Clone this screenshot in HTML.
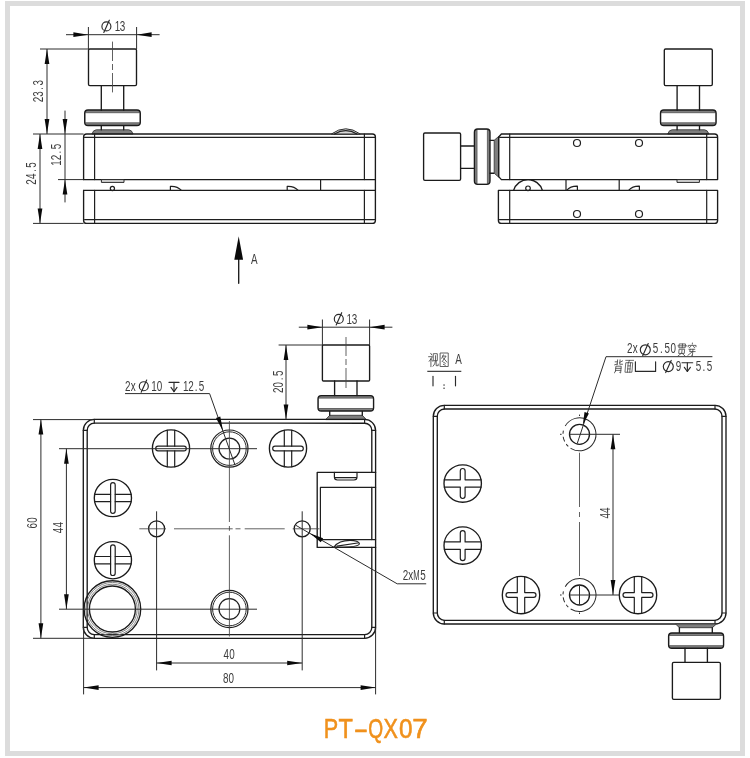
<!DOCTYPE html>
<html lang="en">
<head>
<meta charset="utf-8">
<title>PT-QX07</title>
<style>
html,body{margin:0;padding:0;background:#fff;}
body{width:750px;height:758px;overflow:hidden;font-family:"Liberation Sans",sans-serif;}
svg{display:block;}
.o{fill:none;stroke:#1b1b1b;stroke-width:1.35;stroke-linecap:round;stroke-linejoin:round;}
.o2{fill:none;stroke:#1f1f1f;stroke-width:1.2;stroke-linecap:round;stroke-linejoin:round;}
.o4{fill:none;stroke:#5a5a5a;stroke-width:0.9;}
.o5{fill:none;stroke:#2a2a2a;stroke-width:1;}
.o3{fill:none;stroke:#777;stroke-width:0.9;}
.g{fill:#7e7e7e;stroke:#3c3c3c;stroke-width:0.9;stroke-linejoin:round;}
.gb{fill:#808080;stroke:none;}
.gl{fill:#d9d9d9;stroke:#2a2a2a;stroke-width:1;stroke-linejoin:round;}
.gs{fill:#cfcfcf;stroke:#262626;stroke-width:1.05;}
.t{fill:none;stroke:#2c2c2c;stroke-width:1;}
.c{fill:none;stroke:#444;stroke-width:0.85;}
.t2{fill:none;stroke:#888;stroke-width:0.7;}
.s{fill:none;stroke:#2a2a2a;stroke-width:1.15;stroke-linecap:round;stroke-linejoin:round;}
.u{fill:none;stroke:#444;stroke-width:1.3;}
.a{fill:#0a0a0a;stroke:none;}
.tx{font-family:"Liberation Sans",sans-serif;fill:#3c3c3c;}
.cj{fill:none;stroke:#444;stroke-width:0.85;stroke-linecap:round;stroke-linejoin:round;}
.ti{font-family:"Liberation Sans",sans-serif;font-size:27px;fill:#f0911c;stroke:#f0911c;stroke-width:0.6;}
</style>
</head>
<body>
<svg width="750" height="758" viewBox="0 0 750 758">
<defs><filter id="gs" filterUnits="userSpaceOnUse" x="0" y="0" width="750" height="758" color-interpolation-filters="sRGB"><feColorMatrix type="saturate" values="0"/></filter><filter id="id" filterUnits="userSpaceOnUse" x="0" y="0" width="750" height="758" color-interpolation-filters="sRGB"><feColorMatrix type="saturate" values="1"/></filter></defs>
<rect x="0" y="0" width="750" height="758" fill="#ffffff"/>
<rect x="5" y="1" width="740" height="755" fill="#dcdcdc"/>
<rect x="10" y="6" width="730" height="745" fill="#ffffff"/>
<g filter="url(#gs)">
<g id="v1">
<path class="g" d="M91.9 134Q93.3 129.8 96.3 129.8H128.7Q131.7 129.8 133.1 134Z"/>
<line class="o" x1="101.3" y1="129.8" x2="101.3" y2="125.6"/>
<line class="o" x1="123.7" y1="129.8" x2="123.7" y2="125.6"/>
<rect class="gb" x="84.7" y="110" width="55.6" height="15.5" rx="3.3"/>
<rect x="85.4" y="112.7" width="54.2" height="10.1" fill="#fff"/>
<line class="o4" x1="85.3" y1="112.7" x2="139.7" y2="112.7"/>
<line class="o4" x1="85.3" y1="122.8" x2="139.7" y2="122.8"/>
<rect class="o" x="84.7" y="110" width="55.6" height="15.5" rx="3.3"/>
<line class="o" x1="101.3" y1="110.2" x2="101.3" y2="85.6"/>
<line class="o" x1="123.7" y1="110.2" x2="123.7" y2="85.6"/>
<rect class="o" x="88.5" y="49" width="48" height="36.6" rx="1.3"/>
<path class="c" d="M112.5 41.6V61M112.5 64V70M112.5 73V92.4"/>
<path class="o" d="M83.6 179.6V137Q83.6 134 86.6 134H372.4Q375.4 134 375.4 137V220.4Q375.4 223.4 372.4 223.4H86.6Q83.6 223.4 83.6 220.4V190.4"/>
<line class="o" x1="83.6" y1="179.6" x2="375.4" y2="179.6"/>
<line class="o" x1="83.6" y1="190.4" x2="375.4" y2="190.4"/>
<line class="o2" x1="84.6" y1="137.4" x2="374.9" y2="137.4"/>
<line class="o2" x1="84.6" y1="219.7" x2="374.9" y2="219.7"/>
<line class="o2" x1="94.6" y1="134" x2="94.6" y2="179.6"/>
<line class="o2" x1="94.6" y1="190.4" x2="94.6" y2="223.4"/>
<line class="o2" x1="364.4" y1="134" x2="364.4" y2="179.6"/>
<line class="o2" x1="364.4" y1="190.4" x2="364.4" y2="223.4"/>
<line class="o2" x1="320.6" y1="179.6" x2="320.6" y2="190.4"/>
<rect class="gl" x="101.4" y="179.6" width="22.6" height="2.8"/>
<circle class="o2" cx="112.4" cy="188.5" r="2.1"/>
<path class="o2" d="M170.4 190.4V186.4Q177.4 186 181.4 190.4"/>
<path class="o2" d="M287.2 190.4V186.4Q294.2 186 298.2 190.4"/>
<path class="gl" d="M331.4 134Q345.8 123.6 360.2 134Z"/>
<path class="o2" d="M334.5 134Q345.8 127.4 357 134"/>
</g>
<g id="d1">
<line class="t" x1="66" y1="34.7" x2="159.6" y2="34.7"/>
<line class="t" x1="88.4" y1="27" x2="88.4" y2="49"/>
<line class="t" x1="136.6" y1="27" x2="136.6" y2="49"/>
<polygon class="a" points="88.4,34.7 73.4,37.05 73.4,32.35"/>
<polygon class="a" points="136.6,34.7 151.6,32.35 151.6,37.05"/>
<circle class="s" cx="106.4" cy="26.4" r="4.5"/>
<line class="s" x1="103.8" y1="32.4" x2="109.3" y2="20.2"/>
<text class="tx" transform="translate(114.8,30.8) scale(0.65,1)" font-size="15.2" text-anchor="middle" x="4 12" y="0">13</text>
<line class="t" x1="40" y1="49" x2="88.4" y2="49"/>
<line class="t" x1="33" y1="134" x2="83.6" y2="134"/>
<line class="t" x1="47" y1="49" x2="47" y2="134"/>
<polygon class="a" points="47,49 49.35,64 44.65,64"/>
<polygon class="a" points="47,134 44.65,119 49.35,119"/>
<text class="tx" transform="translate(43.2,102.4) rotate(-90) scale(0.65,1)" font-size="15.2" text-anchor="middle" x="4.35 13.04 21.73 30.42" y="0">23.3</text>
<line class="t" x1="65" y1="110.6" x2="65" y2="202.4"/>
<polygon class="a" points="65,134 62.65,119 67.35,119"/>
<polygon class="a" points="65,179.6 67.35,194.6 62.65,194.6"/>
<line class="t" x1="58" y1="179.6" x2="83.6" y2="179.6"/>
<text class="tx" transform="translate(61.4,165.8) rotate(-90) scale(0.65,1)" font-size="15.2" text-anchor="middle" x="4.23 12.69 21.15 29.62" y="0">12.5</text>
<line class="t" x1="40" y1="134" x2="40" y2="223.4"/>
<polygon class="a" points="40,134 42.35,149 37.65,149"/>
<polygon class="a" points="40,223.4 37.65,208.4 42.35,208.4"/>
<line class="t" x1="33" y1="223.4" x2="83.6" y2="223.4"/>
<text class="tx" transform="translate(36,184.8) rotate(-90) scale(0.65,1)" font-size="15.2" text-anchor="middle" x="4.35 13.04 21.73 30.42" y="0">24.5</text>
<line class="o" x1="238.7" y1="258" x2="238.7" y2="283.3"/>
<polygon class="a" points="238.7,236.3 234.3,259.7 243.1,259.7"/>
<text class="tx" transform="translate(251,263.8) scale(0.65,1)" font-size="15.2" text-anchor="middle" x="4.92" y="0">A</text>
</g>
<g id="v2">
<path class="g" d="M667.7 134Q669.1 129.8 672.1 129.8H704.5Q707.5 129.8 708.9 134Z"/>
<line class="o" x1="677.1" y1="129.8" x2="677.1" y2="125.6"/>
<line class="o" x1="699.5" y1="129.8" x2="699.5" y2="125.6"/>
<rect class="gb" x="660.5" y="110" width="55.6" height="15.5" rx="3.3"/>
<rect x="661.2" y="112.7" width="54.2" height="10.1" fill="#fff"/>
<line class="o4" x1="661.1" y1="112.7" x2="715.5" y2="112.7"/>
<line class="o4" x1="661.1" y1="122.8" x2="715.5" y2="122.8"/>
<rect class="o" x="660.5" y="110" width="55.6" height="15.5" rx="3.3"/>
<line class="o" x1="677.1" y1="110.2" x2="677.1" y2="85.6"/>
<line class="o" x1="699.5" y1="110.2" x2="699.5" y2="85.6"/>
<rect class="o" x="664.3" y="49" width="48" height="36.6" rx="1.3"/>
<rect class="o" x="423.6" y="133" width="37" height="47.4" rx="1.3"/>
<line class="o" x1="460.6" y1="146" x2="474.4" y2="146"/>
<line class="o" x1="460.6" y1="168.4" x2="474.4" y2="168.4"/>
<rect class="gb" x="474.4" y="129" width="15.6" height="55.4" rx="3.3"/>
<rect x="477" y="129.7" width="10.4" height="54" fill="#fff"/>
<line class="o4" x1="477" y1="129.6" x2="477" y2="183.8"/>
<line class="o4" x1="487.4" y1="129.6" x2="487.4" y2="183.8"/>
<rect class="o" x="474.4" y="129" width="15.6" height="55.4" rx="3.3"/>
<line class="o" x1="490" y1="140.3" x2="494.2" y2="140.3"/>
<line class="o" x1="490" y1="173.2" x2="494.2" y2="173.2"/>
<polygon class="g" points="494.2,140.3 498.7,136.4 498.7,177.2 494.2,173.2"/>
<path class="o" d="M498.7 137V176.6L501.4 179.6H717.6V137Q717.6 134 714.6 134H501.4Z"/>
<line class="o2" x1="499.7" y1="137.4" x2="717.1" y2="137.4"/>
<line class="o2" x1="509.7" y1="134" x2="509.7" y2="179.6"/>
<line class="o2" x1="706.7" y1="134" x2="706.7" y2="179.6"/>
<path class="o" d="M498.4 190.4V220.4Q498.4 223.4 501.4 223.4H714.6Q717.6 223.4 717.6 220.4V190.4Z"/>
<line class="o2" x1="499.4" y1="219.7" x2="717.1" y2="219.7"/>
<line class="o2" x1="509.7" y1="190.4" x2="509.7" y2="223.4"/>
<line class="o2" x1="706.7" y1="190.4" x2="706.7" y2="223.4"/>
<line class="o2" x1="566" y1="179.6" x2="566" y2="190.4"/>
<line class="o2" x1="619.2" y1="179.6" x2="619.2" y2="190.4"/>
<path class="o2" d="M566.6 190.4Q570.6 186 577.4 186.2V190.4"/>
<path class="o2" d="M628.6 190.4Q632.6 186 639.4 186.2V190.4"/>
<path class="o" d="M513.6 190.4A15 15 0 0 1 542.4 190.4"/>
<circle class="o2" cx="528" cy="188.3" r="2.3"/>
<circle class="o2" cx="577" cy="143" r="3.5"/>
<circle class="o2" cx="639" cy="143" r="3.5"/>
<circle class="o2" cx="577" cy="214" r="3.5"/>
<circle class="o2" cx="639" cy="214" r="3.5"/>
<rect class="gl" x="677" y="179.6" width="22.4" height="2.8"/>
</g>
<g id="v3">
<polygon class="g" points="325.6,419.6 329.7,415.3 362.3,415.3 366.4,419.6"/>
<line class="o" x1="329.7" y1="411" x2="329.7" y2="415.3"/>
<line class="o" x1="362.3" y1="411" x2="362.3" y2="415.3"/>
<rect class="gb" x="318" y="395.6" width="55.6" height="15.4" rx="3.3"/>
<rect x="318.7" y="398.1" width="54.2" height="10.4" fill="#fff"/>
<line class="o4" x1="318.6" y1="398.1" x2="373" y2="398.1"/>
<line class="o4" x1="318.6" y1="408.5" x2="373" y2="408.5"/>
<rect class="o" x="318" y="395.6" width="55.6" height="15.4" rx="3.3"/>
<line class="o" x1="334.6" y1="381" x2="334.6" y2="395.6"/>
<line class="o" x1="357" y1="381" x2="357" y2="395.6"/>
<rect class="o" x="322.4" y="345" width="47.2" height="36" rx="1"/>
<path class="c" d="M346 337V356M346 359V365M346 368V388"/>
<path class="o" d="M83.3 627.3V430.4A11 11 0 0 1 94.3 419.4H364.6A11 11 0 0 1 375.6 430.4V627.3A11 11 0 0 1 364.6 638.3H94.3A11 11 0 0 1 83.3 627.3"/>
<path class="o" d="M87.2 627.3V430.4A7.2 7.2 0 0 1 94.3 423.2H364.6A7.2 7.2 0 0 1 371.8 430.4V472.4M371.8 487.4V539.6M371.8 547.4V627.3A7.2 7.2 0 0 1 364.6 634.6H94.3A7.2 7.2 0 0 1 87.2 627.3"/>
<line class="o2" x1="83.3" y1="430.4" x2="87.2" y2="430.4"/>
<line class="o2" x1="94.3" y1="419.4" x2="94.3" y2="423.2"/>
<line class="o2" x1="364.6" y1="419.4" x2="364.6" y2="423.2"/>
<line class="o2" x1="371.8" y1="430.4" x2="375.6" y2="430.4"/>
<line class="o2" x1="371.8" y1="627.3" x2="375.6" y2="627.3"/>
<line class="o2" x1="364.6" y1="634.6" x2="364.6" y2="638.3"/>
<line class="o2" x1="94.3" y1="634.6" x2="94.3" y2="638.3"/>
<line class="o2" x1="83.3" y1="627.3" x2="87.2" y2="627.3"/>
<g transform="translate(112.9,498)">
<circle class="o" cx="0" cy="0" r="18.6"/>
<rect class="o2" x="-2.3" y="-15.3" width="4.6" height="30.6" rx="2.3"/>
<line class="o2" x1="-18.23" y1="-3.7" x2="-2.3" y2="-3.7"/>
<line class="o2" x1="2.3" y1="-3.7" x2="18.23" y2="-3.7"/>
<line class="o2" x1="-18.23" y1="3.7" x2="-2.3" y2="3.7"/>
<line class="o2" x1="2.3" y1="3.7" x2="18.23" y2="3.7"/>
</g>
<g transform="translate(112.9,560.2)">
<circle class="o" cx="0" cy="0" r="18.6"/>
<rect class="o2" x="-2.3" y="-15.3" width="4.6" height="30.6" rx="2.3"/>
<line class="o2" x1="-18.23" y1="-3.7" x2="-2.3" y2="-3.7"/>
<line class="o2" x1="2.3" y1="-3.7" x2="18.23" y2="-3.7"/>
<line class="o2" x1="-18.23" y1="3.7" x2="-2.3" y2="3.7"/>
<line class="o2" x1="2.3" y1="3.7" x2="18.23" y2="3.7"/>
</g>
<g transform="translate(171,448.5) rotate(90)">
<circle class="o" cx="0" cy="0" r="18.6"/>
<rect class="o2" x="-2.3" y="-15.3" width="4.6" height="30.6" rx="2.3"/>
<line class="o2" x1="-18.23" y1="-3.7" x2="-2.3" y2="-3.7"/>
<line class="o2" x1="2.3" y1="-3.7" x2="18.23" y2="-3.7"/>
<line class="o2" x1="-18.23" y1="3.7" x2="-2.3" y2="3.7"/>
<line class="o2" x1="2.3" y1="3.7" x2="18.23" y2="3.7"/>
</g>
<g transform="translate(288,448.5) rotate(90)">
<circle class="o" cx="0" cy="0" r="18.6"/>
<rect class="o2" x="-2.3" y="-15.3" width="4.6" height="30.6" rx="2.3"/>
<line class="o2" x1="-18.23" y1="-3.7" x2="-2.3" y2="-3.7"/>
<line class="o2" x1="2.3" y1="-3.7" x2="18.23" y2="-3.7"/>
<line class="o2" x1="-18.23" y1="3.7" x2="-2.3" y2="3.7"/>
<line class="o2" x1="2.3" y1="3.7" x2="18.23" y2="3.7"/>
</g>
<circle class="o2" cx="229.4" cy="448.6" r="18.6"/>
<circle class="o5" cx="229.4" cy="448.6" r="16.8"/>
<circle class="o2" cx="229.4" cy="448.6" r="10.4"/>
<circle class="o2" cx="229.4" cy="609" r="18.6"/>
<circle class="o5" cx="229.4" cy="609" r="16.8"/>
<circle class="o2" cx="229.4" cy="609" r="10.4"/>
<circle class="o" cx="156.6" cy="528.8" r="8"/>
<circle class="o" cx="302.2" cy="528.8" r="8"/>
<circle class="o" cx="112.4" cy="609" r="28.3"/>
<circle class="o3" cx="112.4" cy="609" r="26.6"/>
<circle class="o3" cx="112.4" cy="609" r="24.8"/>
<circle class="o" cx="112.4" cy="609" r="23"/>
<path class="o" d="M375.6 472.4H317.2V547.4H375.6"/>
<path class="o2" d="M375.6 487.4H320.4V539.6H375.6"/>
<path class="o2" d="M334.4 472.4V477Q334.4 480 337.4 480H354Q357 480 357 477V472.4"/>
<line class="o2" x1="335" y1="477.6" x2="356.4" y2="477.6"/>
<path class="o2" d="M334 547C337 543 343 540.4 350 540.4C355 540.4 359.5 541.5 359.3 544C359 546.6 350 547.2 334 547Z" style="fill:#fff"/>
<path class="o2" d="M337 546.2L357.5 543"/>
</g>
<g id="d3">
<path class="c" d="M139.3 528.8H166M174 528.8H232.7M235.5 528.8H240.5M244.7 528.8H284.7M292.7 528.8H319.5"/>
<path class="c" d="M229.4 421V522M229.4 526V530.8M229.4 535.3V636.5"/>
<line class="t" x1="33" y1="419.6" x2="93" y2="419.6"/>
<line class="t" x1="33" y1="638.3" x2="94" y2="638.3"/>
<line class="t" x1="40.9" y1="419.6" x2="40.9" y2="638.3"/>
<polygon class="a" points="40.9,419.6 43.25,434.6 38.55,434.6"/>
<polygon class="a" points="40.9,638.3 38.55,623.3 43.25,623.3"/>
<text class="tx" transform="translate(37.4,528.6) rotate(-90) scale(0.65,1)" font-size="15.2" text-anchor="middle" x="4.38 13.15" y="0">60</text>
<line class="t" x1="59" y1="448.7" x2="257" y2="448.7"/>
<line class="t" x1="59" y1="609.2" x2="257" y2="609.2"/>
<line class="t" x1="66.4" y1="448.7" x2="66.4" y2="609.2"/>
<polygon class="a" points="66.4,448.7 68.75,463.7 64.05,463.7"/>
<polygon class="a" points="66.4,609.2 64.05,594.2 68.75,594.2"/>
<text class="tx" transform="translate(62.5,533.3) rotate(-90) scale(0.65,1)" font-size="15.2" text-anchor="middle" x="4.38 13.15" y="0">44</text>
<line class="t" x1="156.6" y1="511.3" x2="156.6" y2="670.4"/>
<line class="t" x1="302.2" y1="511.3" x2="302.2" y2="670.4"/>
<line class="t" x1="156.6" y1="663" x2="302.2" y2="663"/>
<polygon class="a" points="156.6,663 171.6,660.65 171.6,665.35"/>
<polygon class="a" points="302.2,663 287.2,665.35 287.2,660.65"/>
<text class="tx" transform="translate(223.4,658.6) scale(0.65,1)" font-size="15.2" text-anchor="middle" x="4.38 13.15" y="0">40</text>
<line class="t" x1="83.6" y1="627" x2="83.6" y2="694.4"/>
<line class="t" x1="375.6" y1="628" x2="375.6" y2="694.4"/>
<line class="t" x1="83.6" y1="687.6" x2="375.6" y2="687.6"/>
<polygon class="a" points="83.6,687.6 98.6,685.25 98.6,689.95"/>
<polygon class="a" points="375.6,687.6 360.6,689.95 360.6,685.25"/>
<text class="tx" transform="translate(222.8,683.2) scale(0.65,1)" font-size="15.2" text-anchor="middle" x="4.38 13.15" y="0">80</text>
<line class="t" x1="278.6" y1="345" x2="322.4" y2="345"/>
<line class="t" x1="286" y1="345" x2="286" y2="419.6"/>
<polygon class="a" points="286,345 288.35,360 283.65,360"/>
<polygon class="a" points="286,419.6 283.65,404.6 288.35,404.6"/>
<text class="tx" transform="translate(282.5,393.2) rotate(-90) scale(0.65,1)" font-size="15.2" text-anchor="middle" x="4.38 13.15 21.92 30.69" y="0">20.5</text>
<line class="t" x1="298.8" y1="327.2" x2="392.4" y2="327.2"/>
<line class="t" x1="322.4" y1="319.5" x2="322.4" y2="345"/>
<line class="t" x1="369.6" y1="319.5" x2="369.6" y2="345"/>
<polygon class="a" points="322.4,327.2 307.4,329.55 307.4,324.85"/>
<polygon class="a" points="369.6,327.2 384.6,324.85 384.6,329.55"/>
<circle class="s" cx="338.8" cy="318.9" r="4.5"/>
<line class="s" x1="336.2" y1="324.9" x2="341.7" y2="312.7"/>
<text class="tx" transform="translate(346.5,323.6) scale(0.65,1)" font-size="15.2" text-anchor="middle" x="4.15 12.46" y="0">13</text>
<text class="tx" transform="translate(125,390.6) scale(0.65,1)" font-size="15.2" text-anchor="middle" x="4.23 12.69" y="0">2x</text>
<circle class="s" cx="143.8" cy="386.2" r="4.5"/>
<line class="s" x1="141.2" y1="392.2" x2="146.7" y2="380"/>
<text class="tx" transform="translate(151.4,390.6) scale(0.65,1)" font-size="15.2" text-anchor="middle" x="4.15 12.46" y="0">10</text>
<line class="s" x1="169" y1="382.4" x2="179" y2="382.4"/>
<line class="s" x1="174" y1="382.4" x2="174" y2="391.6"/>
<path class="s" d="M171 387.4L174 391.6L177 387.4"/>
<text class="tx" transform="translate(183,390.6) scale(0.65,1)" font-size="15.2" text-anchor="middle" x="4.08 12.23 20.38 28.54" y="0">12.5</text>
<path class="t" d="M125 393.6H209.6L235 465"/>
<polygon class="a" points="223,431 215.97,418.11 220.31,416.57"/>
<path class="t" d="M296 525.4L397.2 583.8H426.2"/>
<polygon class="a" points="309.8,533.2 323.09,538.18 320.8,542.17"/>
<text class="tx" transform="translate(403,580.2) scale(0.65,1)" font-size="15.2" text-anchor="middle" x="3.92 11.77" y="0">2x</text>
<text class="tx" transform="translate(413.4,580.2) scale(0.5,1)" font-size="15.2" text-anchor="middle" x="6.2" y="0">M</text>
<text class="tx" transform="translate(420.2,580.2) scale(0.65,1)" font-size="15.2" text-anchor="middle" x="4.46" y="0">5</text>
</g>
<g id="v4">
<path class="o" d="M433.3 613V416.3A11 11 0 0 1 444.3 405.3H715A11 11 0 0 1 726 416.3V613A11 11 0 0 1 715 624H444.3A11 11 0 0 1 433.3 613"/>
<path class="o" d="M437.3 613V416.3A7.2 7.2 0 0 1 444.3 409H715A7.2 7.2 0 0 1 722 416.3V613A7.2 7.2 0 0 1 715 620.3H444.3A7.2 7.2 0 0 1 437.3 613"/>
<line class="o2" x1="433.3" y1="416.3" x2="437.3" y2="416.3"/>
<line class="o2" x1="444.3" y1="405.3" x2="444.3" y2="409"/>
<line class="o2" x1="715" y1="405.3" x2="715" y2="409"/>
<line class="o2" x1="722" y1="416.3" x2="726" y2="416.3"/>
<line class="o2" x1="722" y1="613" x2="726" y2="613"/>
<line class="o2" x1="715" y1="620.3" x2="715" y2="624"/>
<line class="o2" x1="444.3" y1="620.3" x2="444.3" y2="624"/>
<line class="o2" x1="433.3" y1="613" x2="437.3" y2="613"/>
<g transform="translate(462.7,483.5)">
<circle class="o" cx="0" cy="0" r="18.7"/>
<path class="o2" d="M-18.33 -3.7H-2.4V-12.6A2.4 2.4 0 0 1 2.4 -12.6V-3.7H18.33"/>
<path class="o2" d="M-18.33 3.7H-2.4V12.6A2.4 2.4 0 0 0 2.4 12.6V3.7H18.33"/>
</g>
<g transform="translate(462.7,545.6)">
<circle class="o" cx="0" cy="0" r="18.7"/>
<path class="o2" d="M-18.33 -3.7H-2.4V-12.6A2.4 2.4 0 0 1 2.4 -12.6V-3.7H18.33"/>
<path class="o2" d="M-18.33 3.7H-2.4V12.6A2.4 2.4 0 0 0 2.4 12.6V3.7H18.33"/>
</g>
<g transform="translate(521,595) rotate(90)">
<circle class="o" cx="0" cy="0" r="18.7"/>
<path class="o2" d="M-18.33 -3.7H-2.4V-12.6A2.4 2.4 0 0 1 2.4 -12.6V-3.7H18.33"/>
<path class="o2" d="M-18.33 3.7H-2.4V12.6A2.4 2.4 0 0 0 2.4 12.6V3.7H18.33"/>
</g>
<g transform="translate(638,595) rotate(90)">
<circle class="o" cx="0" cy="0" r="18.7"/>
<path class="o2" d="M-18.33 -3.7H-2.4V-12.6A2.4 2.4 0 0 1 2.4 -12.6V-3.7H18.33"/>
<path class="o2" d="M-18.33 3.7H-2.4V12.6A2.4 2.4 0 0 0 2.4 12.6V3.7H18.33"/>
</g>
<circle class="o" cx="579.5" cy="434.3" r="10"/>
<circle class="t" cx="579.5" cy="434.3" r="16.5" fill="none" stroke-dasharray="78 3 3 3 5 3 3 5.7" transform="rotate(-150 579.5 434.3)"/>
<circle class="o" cx="579.5" cy="595" r="10"/>
<circle class="t" cx="579.5" cy="595" r="16.5" fill="none" stroke-dasharray="78 3 3 3 5 3 3 5.7" transform="rotate(-150 579.5 595)"/>
<polygon class="g" points="675.6,624 679.4,627.7 712.3,627.7 716.4,624"/>
<line class="o" x1="679.4" y1="627.7" x2="679.4" y2="633"/>
<line class="o" x1="712.3" y1="627.7" x2="712.3" y2="633"/>
<rect class="gb" x="668.6" y="633" width="55" height="15.2" rx="3.3"/>
<rect x="669.3" y="635.5" width="53.6" height="10.2" fill="#fff"/>
<line class="o4" x1="669.2" y1="635.5" x2="723" y2="635.5"/>
<line class="o4" x1="669.2" y1="645.7" x2="723" y2="645.7"/>
<rect class="o" x="668.6" y="633" width="55" height="15.2" rx="3.3"/>
<line class="o" x1="685" y1="648.2" x2="685" y2="662.4"/>
<line class="o" x1="707.4" y1="648.2" x2="707.4" y2="662.4"/>
<rect class="o" x="672.4" y="662.4" width="48" height="37" rx="1.3"/>
</g>
<g id="d4">
<path class="cj" transform="translate(428.2,352.7) skewX(0) scale(0.97,1)" d="M2.6 0.6L3.6 2.2M0.4 4H4.4L1 8.6M2.8 6V14M3.6 7L4.6 8.6M5.6 1H9.4V8H5.6ZM7.5 3V8Q7.3 11.5 5 13.6M8.2 8V13H10.3V11.4"/>
<path class="cj" transform="translate(440.2,352.7) skewX(0) scale(0.98,1)" d="M0.3 0.3H8.2V13.8H0.3ZM3.2 2.2L1.6 5.6M2.6 3.4H6L2 9M3 5L6.8 9.4M3.4 9.6L5.2 10.6M3.2 11.6L5.2 12.6"/>
<text class="tx" transform="translate(455.4,363.8) scale(0.65,1)" font-size="15.2" text-anchor="middle" x="4.77" y="0">A</text>
<line class="u" x1="427.3" y1="371.3" x2="461.3" y2="371.3"/>
<line class="s" x1="433" y1="376.4" x2="433" y2="385.8"/>
<line class="s" x1="455.5" y1="376.4" x2="455.5" y2="385.8"/>
<rect x="443.4" y="384.4" width="1.3" height="1.3" fill="#3a3a3a"/><rect x="443.4" y="387.6" width="1.3" height="1.3" fill="#3a3a3a"/>
<text class="tx" transform="translate(627.2,353.4) scale(0.65,1)" font-size="15.2" text-anchor="middle" x="4.08 12.23" y="0">2x</text>
<circle class="s" cx="645.3" cy="349.8" r="5"/>
<line class="s" x1="642.7" y1="355.8" x2="648.2" y2="343.6"/>
<text class="tx" transform="translate(652.6,353.4) scale(0.65,1)" font-size="15.2" text-anchor="middle" x="4.54 13.62 22.69 31.77" y="0">5.50</text>
<path class="cj" transform="translate(678.2,343) skewX(-5) scale(0.92,0.95)" d="M1.6 1H8V5H1.6ZM4.8 1V5M0 3H9.6M2 6.6H7.6V11H2ZM4.8 7.6V10.6L1 13.6M5.6 11.2L8.6 13.6"/>
<path class="cj" transform="translate(688,343) skewX(-5) scale(0.92,0.95)" d="M4.8 0V1.2M0.6 4V2.5H9V4M3.6 3.2L2 5M6 3.2L7.6 5M1.6 6.6H8M3 6.6L2.6 9H8.6M6 6.6V13.6L5 13M5.8 9L1 13"/>
<path class="t" d="M712.4 356.7H606L577.3 443.3"/>
<polygon class="a" points="582.8,424.7 584.54,412.11 588.91,413.56"/>
<path class="cj" transform="translate(614.6,359.4) skewX(-5) scale(0.95,0.97)" d="M3.2 0.5V5.5M0.8 2.5H3.2M0.5 5.6L3.2 4.8M5.8 0.5V5H8.8M8.6 1.5L5.8 3M2 12Q2 13.4 1 14M2 12V7H7.6V14L6.6 13.5M2 9.2H7.6M2 11.3H7.6"/>
<path class="cj" transform="translate(625.8,359.4) skewX(-5) scale(0.82,0.95)" d="M0 1H9.6M4.6 1L3.6 3.5M0.8 3.5H8.8V13.5H0.8ZM3.3 3.5V13.5M6.2 3.5V13.5M3.3 6.8H6.2M3.3 10H6.2"/>
<path class="s" d="M635.4 361.8V371.4H655.6V361.8"/>
<circle class="s" cx="668.3" cy="366.6" r="5"/>
<line class="s" x1="665.7" y1="372.6" x2="671.2" y2="360.4"/>
<text class="tx" transform="translate(675.6,370.8) scale(0.65,1)" font-size="15.2" text-anchor="middle" x="4.31" y="0">9</text>
<line class="s" x1="682" y1="362.7" x2="692.7" y2="362.7"/>
<line class="s" x1="687.35" y1="362.7" x2="687.35" y2="371.5"/>
<path class="s" d="M684.35 367.3L687.35 371.5L690.35 367.3"/>
<text class="tx" transform="translate(695.6,370.8) scale(0.65,1)" font-size="15.2" text-anchor="middle" x="4.31 12.92 21.54" y="0">5.5</text>
<path class="c" d="M579.5 452.7V507M579.5 512V517M579.5 522V576"/>
<line class="t" x1="569.3" y1="434.3" x2="620" y2="434.3"/>
<line class="t" x1="570" y1="595" x2="620" y2="595"/>
<line class="t" x1="579.5" y1="585.5" x2="579.5" y2="604.5"/>
<line class="t" x1="579.5" y1="612.5" x2="579.5" y2="614"/>
<line class="t" x1="579.5" y1="414.6" x2="579.5" y2="416"/>
<line class="t" x1="560" y1="434.3" x2="561.6" y2="434.3"/>
<line class="t" x1="560" y1="595" x2="561.6" y2="595"/>
<line class="t" x1="613" y1="434.3" x2="613" y2="595"/>
<polygon class="a" points="613,434.3 615.35,449.3 610.65,449.3"/>
<polygon class="a" points="613,595 610.65,580 615.35,580"/>
<text class="tx" transform="translate(609.8,518.6) rotate(-90) scale(0.65,1)" font-size="15.2" text-anchor="middle" x="4.31 12.92" y="0">44</text>
</g>
</g>
<g filter="url(#id)">
<text class="ti" transform="translate(331,738.3) scale(0.8,1)" text-anchor="middle">P</text>
<text class="ti" transform="translate(345.7,738.3) scale(0.87,1)" text-anchor="middle">T</text>
<text class="ti" transform="translate(361,738.3) scale(1.6,1)" text-anchor="middle">-</text>
<text class="ti" transform="translate(375.7,738.3) scale(0.71,1)" text-anchor="middle">Q</text>
<text class="ti" transform="translate(390.8,738.3) scale(0.8,1)" text-anchor="middle">X</text>
<text class="ti" transform="translate(405.7,738.3) scale(0.9,1)" text-anchor="middle">0</text>
<text class="ti" transform="translate(420,738.3) scale(1.03,1)" text-anchor="middle">7</text>
</g>
</svg>
</body>
</html>
